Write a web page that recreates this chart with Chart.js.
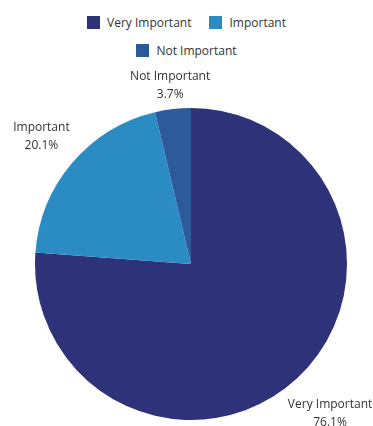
<!DOCTYPE html>
<html>
<head>
<meta charset="utf-8">
<script src="https://cdn.jsdelivr.net/npm/chart.js@4"></script>
<style>
    body { margin: 0; background: #fff; font-family: "Open Sans", sans-serif; }
    #wrap { position: relative; width: 373px; height: 426px; }
    #legend {
        position: absolute; top: 14px; left: 79px; width: 215px;
        display: flex; flex-wrap: wrap; justify-content: center;
        column-gap: 18px; row-gap: 11px;
        font-size: 12px; color: #333;
    }
    .item { display: flex; align-items: center; line-height: 17px; }
    .box { width: 13px; height: 13px; margin-right: 7px; }
    canvas { position: absolute; top: 0; left: 0; }
</style>
</head>
<body>
<div id="wrap">
    <div id="legend"></div>
    <canvas id="pieChart" width="373" height="426"></canvas>
</div>
<script>
const categories = ["Very Important", "Important", "Not Important"];
const shares = [76.1, 20.1, 3.7];
const colors = ["#2e3379", "#2b8cc4", "#2c5a9a"];

// how far out each slice label sits, as a multiple of the radius
const labelDistance = [1.31, 1.26, 1.15];

// legend above the pie, two rows
const legend = document.getElementById("legend");
categories.forEach((name, i) => {
    legend.innerHTML += `<div class="item"><span class="box" style="background:${colors[i]}"></span>${name}</div>`;
});

// labels outside each slice: name and percentage
const outsideLabels = {
    id: "outsideLabels",
    afterDatasetsDraw(chart) {
        const ctx = chart.ctx;
        const arcs = chart.getDatasetMeta(0).data;
        ctx.save();
        ctx.font = "12px 'Open Sans'";
        ctx.fillStyle = "#333";
        ctx.textAlign = "center";
        ctx.textBaseline = "middle";
        arcs.forEach((arc, i) => {
            const mid = (arc.startAngle + arc.endAngle) / 2;
            const r = arc.outerRadius * labelDistance[i];
            const x = arc.x + Math.cos(mid) * r;
            const y = arc.y + Math.sin(mid) * r;
            ctx.fillText(categories[i], x, y - 9);
            ctx.fillText(shares[i].toFixed(1) + "%", x, y + 9);
        });
        ctx.restore();
    }
};

new Chart(document.getElementById("pieChart"), {
    type: "pie",
    data: {
        labels: categories,
        datasets: [{
            data: shares,
            backgroundColor: colors,
            borderWidth: 0
        }]
    },
    options: {
        responsive: false,
        animation: false,
        layout: { padding: { left: 35, right: 26, top: 108, bottom: 6 } },
        plugins: {
            legend: { display: false },
            tooltip: { enabled: false }
        }
    },
    plugins: [outsideLabels]
});
</script>
</body>
</html>
